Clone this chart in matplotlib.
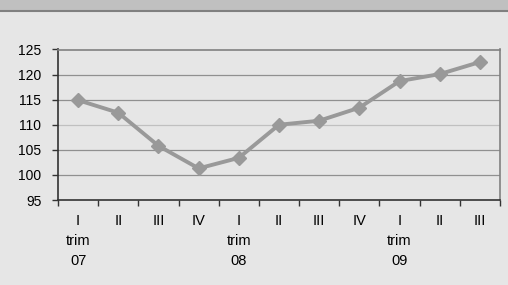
import numpy as np
import matplotlib.pyplot as plt
from matplotlib.patches import Rectangle
from matplotlib.lines import Line2D
import matplotlib.transforms as mtransforms

plt.rcParams['font.family'] = ['Liberation Sans', 'DejaVu Sans']

quarters = ['I', 'II', 'III', 'IV', 'I', 'II', 'III', 'IV', 'I', 'II', 'III']
years = ['07', '08', '09']
year_pos = [0, 4, 8]
values = [114.9, 112.4, 105.8, 101.3, 103.4, 110.0, 110.8, 113.4, 118.7, 120.1, 122.5]

BG = '#e6e6e6'
LINE = '#999999'

fig = plt.figure(figsize=(5.08, 2.85), dpi=100, facecolor=BG)

# grey band at the top with a darker rule under it
fig.patches.append(Rectangle((0, 1 - 10 / 285), 1, 10 / 285, transform=fig.transFigure,
                             facecolor='#c0c0c0', edgecolor='none'))
fig.lines.append(Line2D([0, 1], [1 - 11 / 285, 1 - 11 / 285], transform=fig.transFigure,
                        color='#808080', linewidth=1.5))

ax = fig.add_axes([58 / 508, 1 - 200 / 285, (500 - 58) / 508, (200 - 49.5) / 285])
ax.set_facecolor(BG)

x = np.arange(len(values))
ax.plot(x, values, color=LINE, linewidth=2.8, marker='D', markersize=7.5,
        markerfacecolor=LINE, markeredgecolor=LINE)

ax.set_ylim(95, 125)
ax.set_xlim(-0.5, len(values) - 0.5)
ax.set_yticks(range(95, 126, 5))
for yv in range(100, 125, 5):
    ax.axhline(yv, color='#c0c0c0' if yv == 110 else '#909090', linewidth=0.9, zorder=0)

ax.set_xticks(x)
ax.set_xticklabels(quarters)
ax.set_xticks(np.arange(-0.5, len(values), 1), minor=True)
ax.tick_params(axis='x', which='major', length=0, pad=10, labelsize=10.5, colors='#000000')
ax.tick_params(axis='x', which='minor', length=4, width=1, direction='out', color='#333333')
ax.tick_params(axis='y', length=4, width=1, direction='out', color='#333333', pad=8,
               labelsize=10)

trans = mtransforms.blended_transform_factory(ax.transData, fig.transFigure)
for pos, yr in zip(year_pos, years):
    ax.text(pos, 1 - 241 / 285, 'trim', transform=trans, ha='center', va='center', fontsize=10.5)
    ax.text(pos, 1 - 261 / 285, yr, transform=trans, ha='center', va='center', fontsize=10.5)

for side in ['left', 'bottom']:
    ax.spines[side].set_color('#333333')
    ax.spines[side].set_linewidth(1.2)
for side in ['top', 'right']:
    ax.spines[side].set_color('#808080')
    ax.spines[side].set_linewidth(1.2)

fig.savefig('out.png', dpi=100, facecolor=BG)
